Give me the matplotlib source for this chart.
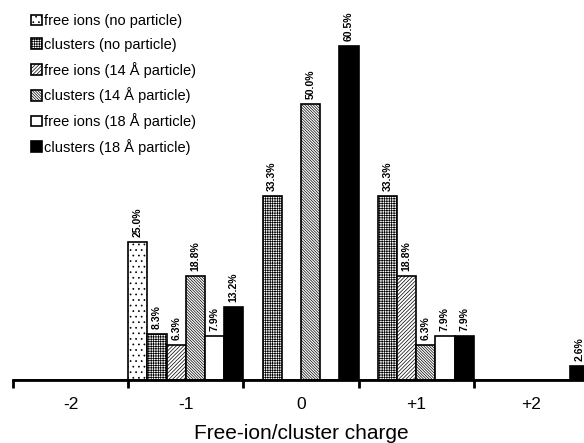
import numpy as np
import matplotlib.pyplot as plt

plt.rcParams['font.family'] = ['Liberation Sans', 'DejaVu Sans']
plt.rcParams['hatch.linewidth'] = 0.5

charges = ['-2', '-1', '0', '+1', '+2']
series = ['free ions (no particle)', 'clusters (no particle)',
          'free ions (14 Å particle)', 'clusters (14 Å particle)',
          'free ions (18 Å particle)', 'clusters (18 Å particle)']

free_none = [0, 25.0, 0, 0, 0]
clus_none = [0, 8.3, 33.3, 33.3, 0]
free_14 = [0, 6.3, 0, 18.8, 0]
clus_14 = [0, 18.8, 50.0, 6.3, 0]
free_18 = [0, 7.9, 0, 7.9, 0]
clus_18 = [0, 13.2, 60.5, 7.9, 2.6]

values = [free_none, clus_none, free_14, clus_14, free_18, clus_18]
faces = ['white', 'white', 'white', 'white', 'white', 'black']
hatches = ['...', '+' * 7, '/' * 9, '\\' * 12, '', '']

fig = plt.figure(figsize=(5.84, 4.43), dpi=100)
ax = fig.add_axes([13 / 584, 63 / 443, 576 / 584, 380 / 443])

x = np.arange(len(charges))
w = 1 / 6
for i, (vals, name) in enumerate(zip(values, series)):
    pos = x - 0.5 + w * (i + 0.5)
    bars = ax.bar(pos, vals, w, color=faces[i], edgecolor='black',
                  hatch=hatches[i], linewidth=1.2, label=name)
    for b, v in zip(bars, vals):
        if v > 0:
            ax.text(b.get_x() + w / 2, v + 0.9, f'{v:.1f}%', rotation=90,
                    ha='center', va='bottom', fontsize=7.5, fontweight='bold')

ax.set_xlim(-0.5, 4.5)
ax.set_ylim(0, 68.8)
for s in ['left', 'right', 'top']:
    ax.spines[s].set_visible(False)
ax.spines['bottom'].set_linewidth(2)
ax.set_yticks([])

# boundaries between charge groups carry the tick marks
ax.set_xticks(np.arange(-0.5, 5.0, 1.0))
ax.set_xticklabels([])
ax.tick_params(axis='x', which='major', length=6, width=2, direction='out')
ax.set_xticks(x, minor=True)
ax.set_xticklabels(charges, minor=True, fontsize=12.5)
ax.tick_params(axis='x', which='minor', length=0, pad=12)
ax.set_xlabel('Free-ion/cluster charge', fontsize=15, labelpad=9)

ax.legend(loc='upper left', bbox_to_anchor=(18 / 576, 1 - 14 / 380), frameon=False,
          fontsize=10.5, handlelength=0.75, handleheight=0.75, handletextpad=0.15,
          labelspacing=0.67, borderaxespad=0.0, borderpad=0.0)

fig.savefig('out.png', dpi=100)
